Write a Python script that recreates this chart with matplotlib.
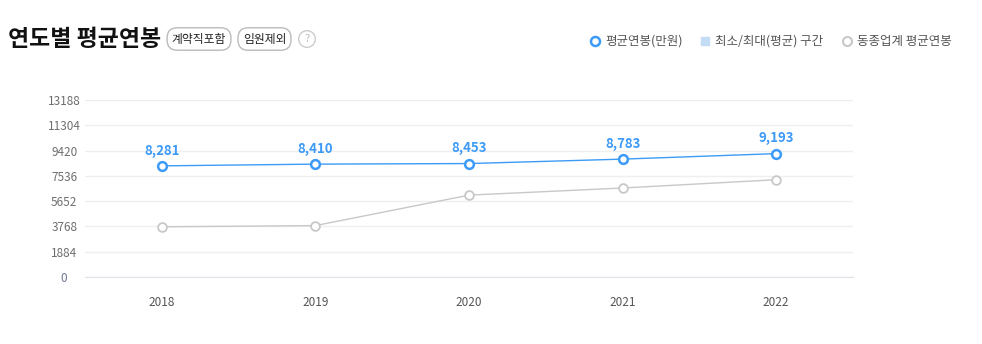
import matplotlib
matplotlib.use("Agg")
import matplotlib.pyplot as plt
from matplotlib.lines import Line2D

plt.rcParams['font.family'] = ['Noto Sans CJK KR', 'DejaVu Sans']

years = ["2018", "2019", "2020", "2021", "2022"]
avg_salary = [8281, 8410, 8453, 8783, 9193]
industry_avg = [3740, 3830, 6100, 6630, 7250]
yticks = [0, 1884, 3768, 5652, 7536, 9420, 11304, 13188]

title = "연도별 평균연봉"
badges = ["계약직포함", "임원제외"]
legend_labels = ["평균연봉(만원)", "최소/최대(평균) 구간", "동종업계 평균연봉"]

BLUE = "#3d9bf7"
GRAY = "#c8c8c8"

W, H = 982, 344
fig = plt.figure(figsize=(W / 100, H / 100), dpi=100)
ax = fig.add_axes([85 / W, (H - 277) / H, (853 - 85) / W, (277 - 100) / H])

x = list(range(len(years)))
ax.plot(x, industry_avg, color=GRAY, lw=1, marker='o', ms=6.3, mfc='white',
        mec=GRAY, mew=1.3, zorder=3)
ax.plot(x, avg_salary, color=BLUE, lw=1, marker='o', ms=6.3, mfc='white',
        mec=BLUE, mew=1.8, zorder=4)
for xi, v in zip(x, avg_salary):
    ax.annotate(f"{v:,}", (xi, v), xytext=(0, 6), textcoords='offset points',
                ha='center', va='bottom', color=BLUE, fontsize=9.5,
                fontweight='bold')

ax.set_xlim(-0.5, len(years) - 0.5)
ax.set_ylim(0, yticks[-1])
ax.set_yticks(yticks)
ax.set_yticklabels([str(t) for t in yticks])
ax.set_xticks(x)
ax.set_xticklabels(years)
ax.tick_params(axis='both', length=0, labelsize=8.5)
ax.tick_params(axis='y', pad=15)
ax.tick_params(axis='x', pad=14)
for lbl in ax.get_yticklabels():
    lbl.set_color("#6e6e6e")
    lbl.set_horizontalalignment('center')
ax.get_yticklabels()[0].set_color("#6e7590")
for lbl in ax.get_xticklabels():
    lbl.set_color("#555555")
ax.grid(axis='y', color="#efefef", lw=1)
ax.set_axisbelow(True)
for s in ['top', 'right', 'left']:
    ax.spines[s].set_visible(False)
ax.spines['bottom'].set_color("#e0e3ea")

# Title
fig.text(8 / W, 1 - 39 / H, title, fontsize=16.5, fontweight='bold',
         color='#111111', va='center', ha='left')

# Badges
bcx = [199, 264.5]
for b, cx in zip(badges, bcx):
    fig.text(cx / W, 1 - 39 / H, b, fontsize=8.5, color='#222222',
             ha='center', va='center',
             bbox=dict(boxstyle='round,pad=0.4,rounding_size=0.85',
                       fc='white', ec='#bbbbbb', lw=1))
fig.text(307 / W, 1 - 39 / H, "?", fontsize=8, color='#bbbbbb',
         ha='center', va='center',
         bbox=dict(boxstyle='circle,pad=0.3', fc='white', ec='#cccccc', lw=1))

# Legend
ly = 1 - 41 / H
fig.add_artist(Line2D([595 / W], [ly], marker='o', ms=6.5, mfc='white', mec=BLUE,
                      mew=1.8, transform=fig.transFigure))
fig.text(605 / W, ly, legend_labels[0], fontsize=9, color='#555555',
         va='center', ha='left')
fig.add_artist(Line2D([705 / W], [ly], marker='s', ms=6, mfc='#c5dcf5',
                      mec='#c5dcf5', transform=fig.transFigure))
fig.text(715 / W, ly, legend_labels[1], fontsize=9, color='#555555',
         va='center', ha='left')
fig.add_artist(Line2D([847 / W], [ly], marker='o', ms=6.5, mfc='white', mec=GRAY,
                      mew=1.5, transform=fig.transFigure))
fig.text(857 / W, ly, legend_labels[2], fontsize=9, color='#555555',
         va='center', ha='left')

fig.savefig("out.png", dpi=100)
